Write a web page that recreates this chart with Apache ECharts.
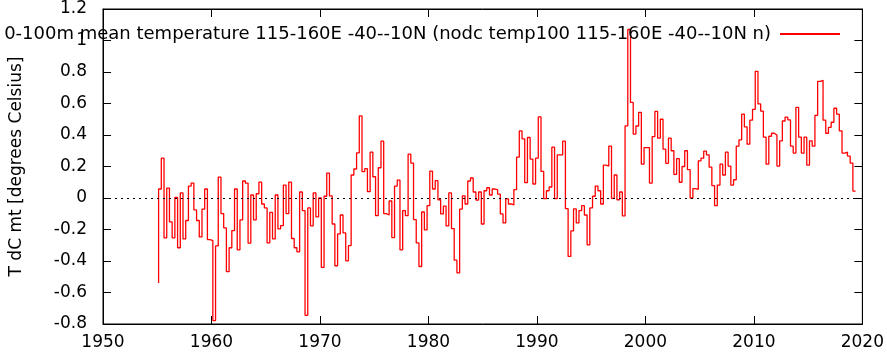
<!DOCTYPE html>
<html>
<head>
<meta charset="utf-8">
<script src="https://cdn.jsdelivr.net/npm/echarts@6/dist/echarts.min.js"></script>
<style>
  html, body { margin: 0; padding: 0; background: #fff; }
  #main { width: 887px; height: 354px; }
</style>
</head>
<body>
<div id="main"></div>
<script>
// quarterly anomalies, first point ~1955.125, step 0.25 yr
const startYear = 1955.125;
const stepYears = 0.25;
const tempValues = [
  -0.54, 0.057, 0.253, -0.253, 0.063, -0.152, -0.253, 0.004, -0.316, 0.032,
  -0.26, -0.143, 0.076, 0.095, -0.076, -0.143, -0.247, -0.07, 0.057, -0.264,
  -0.27, -0.778, -0.304, 0.133, -0.099, -0.19, -0.468, -0.316, -0.207, 0.057,
  -0.329, -0.139, 0.108, 0.095, -0.287, 0.019, -0.139, 0.027, 0.101, -0.038,
  -0.063, -0.285, -0.091, -0.26, 0.019, -0.196, -0.175, 0.082, -0.099, 0.101,
  -0.257, -0.316, -0.342, 0.038, -0.08, -0.745, -0.063, -0.177, 0.032, -0.12,
  0.0, -0.441, 0.011, 0.158, 0.013, -0.165, -0.43, -0.228, -0.108, -0.222,
  -0.399, -0.302, 0.146, 0.184, 0.287, 0.521, 0.167, 0.186, 0.04, 0.291,
  0.135, -0.112, 0.192, 0.361, -0.099, -0.108, -0.019, -0.251, 0.076, 0.114,
  -0.329, -0.08, -0.112, 0.278, 0.222, -0.137, -0.285, -0.435, -0.089, -0.203,
  -0.049, 0.171, 0.057, 0.11, -0.011, -0.101, -0.051, -0.177, 0.032, -0.194,
  -0.395, -0.475, -0.07, 0.013, -0.038, 0.108, 0.127, 0.038, -0.013, 0.038,
  -0.165, 0.046, 0.065, 0.019, 0.057, 0.053, 0.025, -0.101, -0.158, -0.006,
  -0.038, -0.044, 0.053, 0.259, 0.426, 0.376, 0.097, 0.384, 0.247, 0.089,
  0.253, 0.515, 0.169, -0.004, 0.046, 0.07, 0.323, -0.004, 0.274, 0.274,
  0.361, -0.067, -0.371, -0.209, -0.069, -0.158, -0.08, -0.049, -0.108, -0.297,
  -0.063, 0.011, 0.076, 0.046, -0.038, 0.209, 0.203, 0.329, -0.002, 0.146,
  -0.011, 0.038, -0.114, 0.458, 1.07, 0.607, 0.406, 0.457, 0.544, 0.215,
  0.32, 0.32, 0.095, 0.39, 0.55, 0.38, 0.50, 0.31, 0.22, 0.38,
  0.30, 0.15, 0.25, 0.10, 0.2, 0.30, 0.18, 0.0, 0.06, 0.055,
  0.236, 0.253, 0.297, 0.274, 0.196, 0.078, -0.049, 0.082, 0.215, 0.146,
  0.291, 0.203, 0.082, 0.116, 0.329, 0.369, 0.532, 0.451, 0.342, 0.494,
  0.563, 0.804, 0.597, 0.551, 0.386, 0.215, 0.392, 0.411, 0.399, 0.203,
  0.363, 0.489, 0.513, 0.496, 0.329, 0.285, 0.576, 0.386, 0.285, 0.386,
  0.209, 0.363, 0.329, 0.525, 0.741, 0.747, 0.494, 0.411, 0.449, 0.481,
  0.57, 0.532, 0.426, 0.285, 0.291, 0.266, 0.222, 0.044
];
const seriesName = "0-100m mean temperature 115-160E -40--10N (nodc temp100 115-160E -40--10N n)";
const yAxisName = "T dC mt [degrees Celsius]";

const seriesData = tempValues.map(function (v, i) {
  return [startYear + i * stepYears, v];
});

const font = "DejaVu Sans";
const tickStyle = { inside: true, length: 8, lineStyle: { color: "#000" } };
let option = {
  animation: false,
  backgroundColor: "#fff",
  textStyle: { fontFamily: font },
  grid: {
    left: 99,
    right: 19,
    top: 9,
    bottom: 30,
    show: true,
    borderColor: "#000",
    borderWidth: 1,
  },
  legend: {
    data: [seriesName],
    right: 42,
    top: 20,
    align: "right",
    itemWidth: 60,
    itemHeight: 2,
    itemGap: 10,
    icon: "rect",
    textStyle: { fontFamily: font, fontSize: 18, color: "#000", padding: [0, 4, 0, 0] },
  },
  xAxis: [
    {
      type: "value",
      min: 1950,
      max: 2020,
      interval: 10,
      axisLine: { show: true, onZero: false, lineStyle: { color: "#000" } },
      axisTick: tickStyle,
      axisLabel: {
        color: "#000",
        fontSize: 17,
        margin: 10,
        fontFamily: font,
        formatter: function (v) { return String(v); },
      },
      splitLine: { show: false },
    },
    {
      type: "value",
      position: "top",
      min: 1950,
      max: 2020,
      interval: 10,
      axisLine: { show: true, onZero: false, lineStyle: { color: "#000" } },
      axisTick: tickStyle,
      axisLabel: { show: false },
      splitLine: { show: false },
    },
  ],
  yAxis: [
    {
      type: "value",
      min: -0.8,
      max: 1.2,
      interval: 0.2,
      name: yAxisName,
      nameLocation: "middle",
      nameGap: 78,
      nameTextStyle: { fontSize: 17, color: "#000", fontFamily: font },
      axisLine: { show: true, onZero: false, lineStyle: { color: "#000" } },
      axisTick: tickStyle,
      axisLabel: {
        color: "#000",
        fontSize: 17,
        margin: 16,
        fontFamily: font,
        formatter: function (v) { return String(Math.round(v * 10) / 10); },
      },
      splitLine: { show: false },
    },
    {
      type: "value",
      position: "right",
      min: -0.8,
      max: 1.2,
      interval: 0.2,
      axisLine: { show: true, onZero: false, lineStyle: { color: "#000" } },
      axisTick: tickStyle,
      axisLabel: { show: false },
      splitLine: { show: false },
    },
  ],
  series: [
    {
      name: seriesName,
      type: "line",
      step: "start",
      symbol: "none",
      color: "#ff0000",
      lineStyle: { color: "#ff0000", width: 1.3 },
      markLine: {
        silent: true,
        symbol: "none",
        label: { show: false },
        lineStyle: { color: "#000", type: [2, 4], width: 1 },
        data: [{ yAxis: 0 }],
      },
      data: seriesData,
    },
  ],
};

let myChart = echarts.init(document.getElementById("main"));
option && myChart.setOption(option);
</script>
</body>
</html>
